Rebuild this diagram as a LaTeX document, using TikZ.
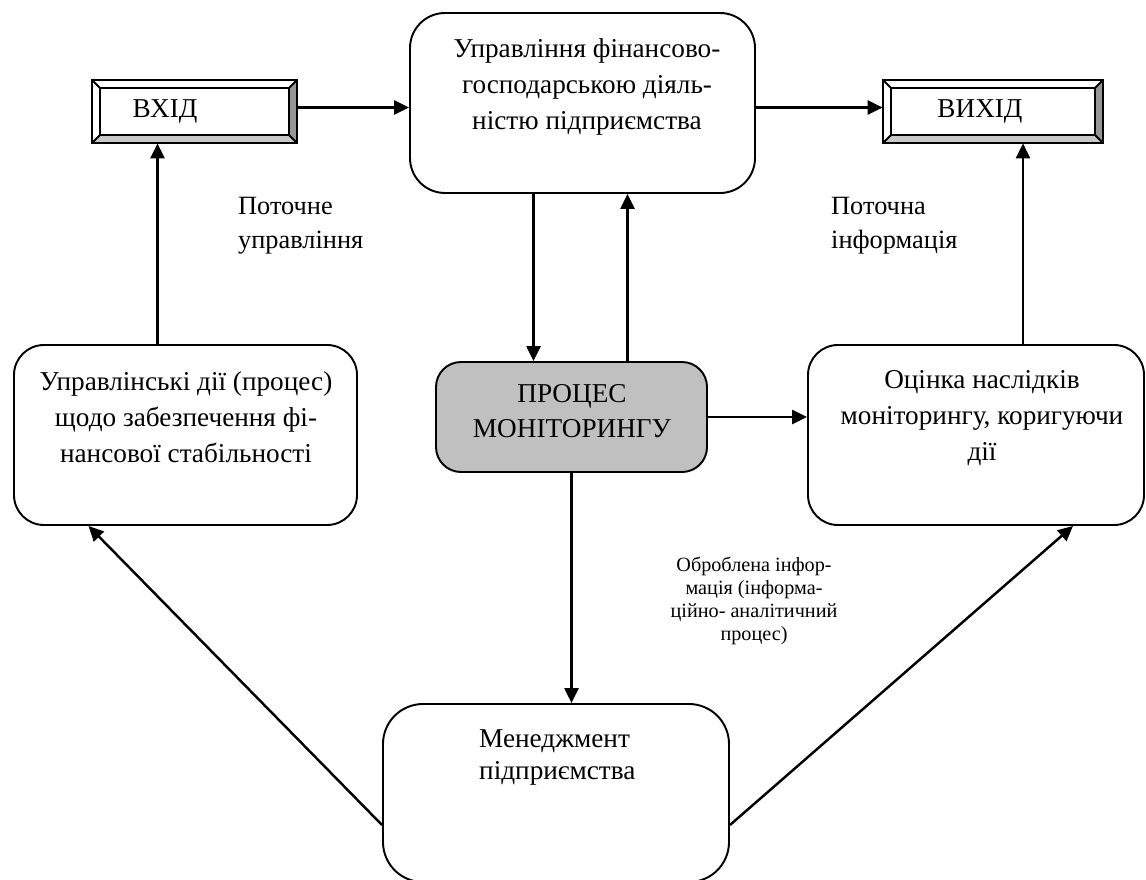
\documentclass[tikz,border=0pt]{standalone}
\usepackage{fontspec}
\setmainfont{Liberation Serif}
\usetikzlibrary{positioning, fit, calc, arrows.meta}

\definecolor{monfill}{RGB}{192,192,192}
\definecolor{bevlight}{RGB}{200,200,200}
\definecolor{bevdark}{RGB}{150,150,150}

% objemna rama (vhid / vyhid)
\newcommand{\bevelframe}[1]{%
  \fill[bevlight] (#1.south west) -- (#1.south east) -- ([shift={(-8,-8)}]#1.south east) -- ([shift={(8,-8)}]#1.south west) -- cycle;
  \fill[bevdark] (#1.north east) -- (#1.south east) -- ([shift={(-8,-8)}]#1.south east) -- ([shift={(-8,8)}]#1.north east) -- cycle;
  \draw[frameline] (#1.north west) rectangle (#1.south east);
  \draw[frameline] ([shift={(8,8)}]#1.north west) rectangle ([shift={(-8,-8)}]#1.south east);
  \draw[frameline] (#1.north west) -- ++(8,8) (#1.north east) -- ++(-8,8)
                   (#1.south west) -- ++(8,-8) (#1.south east) -- ++(-8,-8);
}

\begin{document}
\begin{tikzpicture}[x=0.02cm, y=-0.02cm]
    \tikzset{
        >={Triangle[length=0.3cm, width=0.28cm]}, % trikutni nakonechnyky
        arr/.style={->, line width=1.4pt}, % zviazky
        box/.style={draw, line width=1.1pt, inner sep=0pt}, % zaokrugleni bloky
        frame/.style={fill=white, inner sep=0pt},
        frameline/.style={line width=1.1pt},
        txt/.style={font=\fontsize{15.5}{20.5}\selectfont, align=center},
        lbl/.style={font=\fontsize{15}{19.3}\selectfont, anchor=west, align=left},
        small/.style={font=\fontsize{11.5}{13}\selectfont, align=center},
    }

    \useasboundingbox (0,0) rectangle (1146,879);

    \node[frame, fit={(92,80) (297,143)}] (vhid) {};
    \node[frame, fit={(883,80) (1103,143)}] (vyhid) {};
    \bevelframe{vhid}
    \bevelframe{vyhid}
    \node[txt] (vhid-t) at (165,111) {ВХІД};
    \node[txt] (vyhid-t) at (980,111) {ВИХІД};

    \node[box, rounded corners=0.7cm, fit={(410,13) (755,193)}] (fin) {};
    \node[box, rounded corners=0.6cm, fit={(14,345) (357,525)}] (upr) {};
    \node[box, rounded corners=0.6cm, fit={(808,345) (1144,525)}] (ocin) {};
    \node[box, rounded corners=0.5cm, fill=monfill, fit={(436,362) (707,472)}] (mon) {};
    \node[box, rounded corners=0.8cm, fit={(383,704) (729,882)}] (men) {};

    \node[txt] (fin-t) at (587,87) {Управління фінансово-\\господарською діяль-\\ністю підприємства};
    \node[txt] (upr-t) at (186,417) {Управлінські дії (процес)\\щодо забезпечення фі-\\нансової стабільності};
    \node[txt] (ocin-t) at (982,418) {Оцінка наслідків\\моніторингу, коригуючи\\дії};
    \node[txt, font=\fontsize{15.5}{19.5}\selectfont] (mon-t) at (572,411) {ПРОЦЕС\\МОНІТОРИНГУ};
    \node[txt, font=\fontsize{15.5}{18.2}\selectfont, anchor=west, align=left] (men-t) at (473,757) {Менеджмент\\підприємства};

    \node[lbl] (l-upr) at (232,226) {Поточне\\управління};
    \node[lbl] (l-inf) at (825,226) {Поточна\\інформація};
    \node[small] (l-obr) at (754,601) {Оброблена інфор-\\мація (інформа-\\ційно- аналітичний\\процес)};

    \draw[arr] ([shift={(0,-4)}]vhid.east) -- ([shift={(0,-4)}]vhid.east -| fin.west);
    \draw[arr] ([shift={(0,-4)}]fin.east |- vyhid.west) -- ([shift={(0,-4)}]vyhid.west);
    \draw[arr] ([shift={(-28,0)}]upr.north) -- ([shift={(-28,0)}]upr.north |- vhid.south);
    \draw[arr] ([shift={(47,0)}]ocin.north) -- ([shift={(47,0)}]ocin.north |- vyhid.south);
    \draw[arr] ([shift={(-49,0)}]fin.south) -- ([shift={(-49,0)}]fin.south |- mon.north);
    \draw[arr] ([shift={(45,0)}]fin.south |- mon.north) -- ([shift={(45,0)}]fin.south);
    \draw[arr] (mon.east) -- (mon.east -| ocin.west);
    \draw[arr] (mon.south) -- (mon.south |- men.north);
    \draw[arr] ([shift={(0,32)}]men.west) -- ([shift={(-97,0)}]upr.south);
    \draw[arr] ([shift={(0,32)}]men.east) -- ([shift={(97,0)}]ocin.south);
\end{tikzpicture}
\end{document}
